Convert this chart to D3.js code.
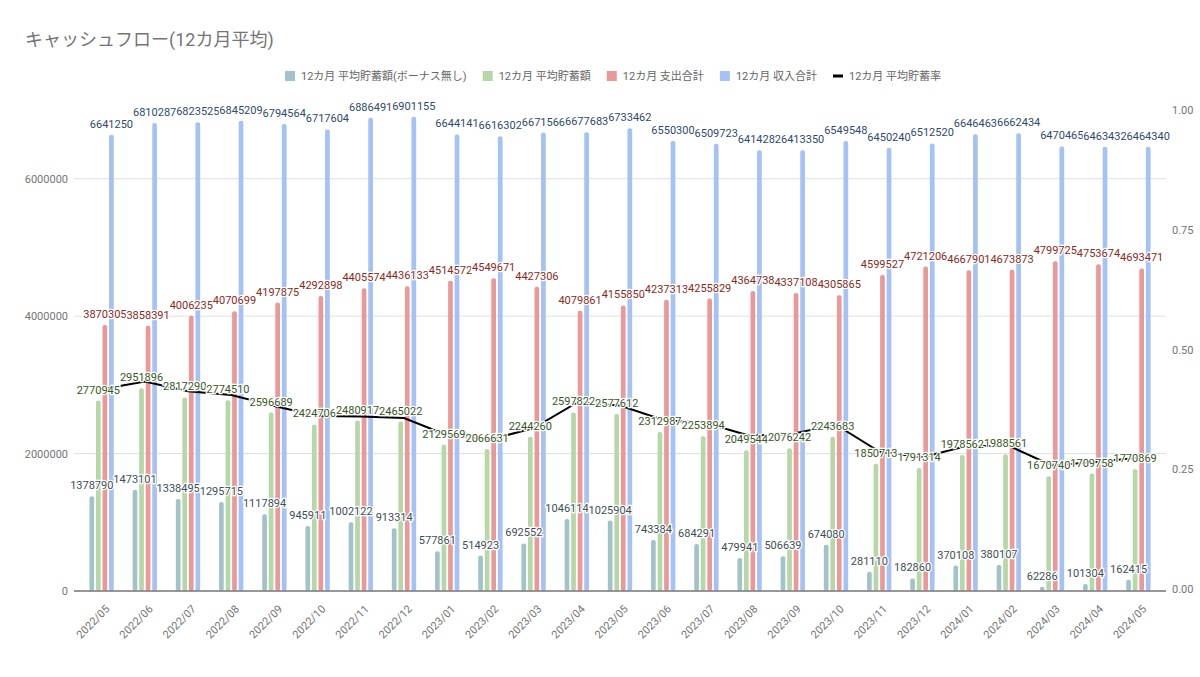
<!DOCTYPE html>
<html>
<head>
<meta charset="utf-8">
<script src="https://cdn.jsdelivr.net/npm/d3@7"></script>
<style>
  body { margin: 0; background: #fff; }
  text { font-family: Roboto, "Noto Sans CJK JP", sans-serif; }
</style>
</head>
<body>
<div id="chart"></div>
<script>
// data
const months = ["2022/05", "2022/06", "2022/07", "2022/08", "2022/09", "2022/10", "2022/11", "2022/12",
  "2023/01", "2023/02", "2023/03", "2023/04", "2023/05", "2023/06", "2023/07", "2023/08", "2023/09",
  "2023/10", "2023/11", "2023/12", "2024/01", "2024/02", "2024/03", "2024/04", "2024/05"];

const savingsNoBonus = [1378790, 1473101, 1338495, 1295715, 1117894, 945911, 1002122, 913314,
  577861, 514923, 692552, 1046114, 1025904, 743384, 684291, 479941, 506639,
  674080, 281110, 182860, 370108, 380107, 62286, 101304, 162415];

const savings = [2770945, 2951896, 2817290, 2774510, 2596689, 2424706, 2480917, 2465022,
  2129569, 2066631, 2244260, 2597822, 2577612, 2312987, 2253894, 2049544, 2076242,
  2243683, 1850713, 1791314, 1978562, 1988561, 1670740, 1709758, 1770869];

const expense = [3870305, 3858391, 4006235, 4070699, 4197875, 4292898, 4405574, 4436133,
  4514572, 4549671, 4427306, 4079861, 4155850, 4237313, 4255829, 4364738, 4337108,
  4305865, 4599527, 4721206, 4667901, 4673873, 4799725, 4753674, 4693471];

const income = [6641250, 6810287, 6823525, 6845209, 6794564, 6717604, 6886491, 6901155,
  6644141, 6616302, 6671566, 6677683, 6733462, 6550300, 6509723, 6414282, 6413350,
  6549548, 6450240, 6512520, 6646463, 6662434, 6470465, 6463432, 6464340];

const savingsRate = [0.417, 0.433, 0.413, 0.405, 0.382, 0.361, 0.360, 0.357,
  0.321, 0.312, 0.336, 0.389, 0.383, 0.353, 0.346, 0.320, 0.324,
  0.343, 0.287, 0.275, 0.298, 0.299, 0.258, 0.265, 0.274];

const leftTicks = [0, 2000000, 4000000, 6000000];
const rightTicks = [0, 0.25, 0.5, 0.75, 1];

const seriesNames = ["12カ月 平均貯蓄額(ボーナス無し)", "12カ月 平均貯蓄額", "12カ月 支出合計", "12カ月 収入合計"];
const lineName = "12カ月 平均貯蓄率";

const barColors = ["#a2c4c9", "#b6d7a8", "#ea9999", "#a4c2f4"];
const labelColors = ["#3d4f55", "#38561f", "#8a2a23", "#2f4a6d"];

const width = 1200, height = 677;
const plot = { left: 80, right: 1160, top: 110, bottom: 591 };

const svg = d3.select("#chart").append("svg")
  .attr("width", width)
  .attr("height", height);

const x = d3.scaleBand().domain(months).range([plot.left, plot.right]).padding(0);
const xInner = d3.scaleBand().domain(d3.range(4)).range([-14, 14]).padding(0.28);
const y = d3.scaleLinear().domain([0, 7000000]).range([plot.bottom, plot.top]);
const yRight = d3.scaleLinear().domain([0, 1]).range([plot.bottom - 2, plot.top]);

// title
svg.append("text")
  .attr("x", 25)
  .attr("y", 46)
  .attr("fill", "#757575")
  .style("font-size", "18px")
  .text("キャッシュフロー(12カ月平均)");

// gridlines
svg.append("g")
  .selectAll("line")
  .data([2000000, 4000000, 6000000])
  .join("line")
  .attr("x1", 74)
  .attr("x2", 1166)
  .attr("y1", d => y(d))
  .attr("y2", d => y(d))
  .attr("stroke", "#e0e0e0")
  .attr("stroke-width", 1);

// left axis
const leftAxis = svg.append("g")
  .attr("transform", `translate(${plot.left - 12},0)`)
  .call(d3.axisLeft(y).tickValues(leftTicks).tickSize(0).tickPadding(0).tickFormat(d3.format("d")));
leftAxis.select(".domain").remove();
leftAxis.selectAll("text").attr("fill", "#757575").style("font-size", "11px");

// right axis
const rightAxis = svg.append("g")
  .attr("transform", `translate(1172,0)`)
  .call(d3.axisRight(yRight).tickValues(rightTicks).tickSize(0).tickPadding(0).tickFormat(d3.format(".2f")));
rightAxis.select(".domain").remove();
rightAxis.selectAll("text").attr("fill", "#757575").style("font-size", "11px");

// bars
const allSeries = [savingsNoBonus, savings, expense, income];
const groups = svg.append("g")
  .selectAll("g")
  .data(allSeries)
  .join("g")
  .attr("fill", (d, i) => barColors[i]);

groups.each(function (values, si) {
  d3.select(this).selectAll("rect")
    .data(values)
    .join("rect")
    .attr("x", (d, i) => x(months[i]) + x.bandwidth() / 2 + xInner(si))
    .attr("y", d => y(d))
    .attr("width", xInner.bandwidth())
    .attr("height", d => y(0) - y(d))
    .attr("rx", 2);
});

// baseline
svg.append("line")
  .attr("x1", 74)
  .attr("x2", 1166)
  .attr("y1", y(0))
  .attr("y2", y(0))
  .attr("stroke", "#757575")
  .attr("stroke-width", 1.5);

// savings rate line
const line = d3.line()
  .x((d, i) => x(months[i]) + x.bandwidth() / 2)
  .y(d => yRight(d));

svg.append("path")
  .datum(savingsRate)
  .attr("d", line)
  .attr("fill", "none")
  .attr("stroke", "#000")
  .attr("stroke-width", 2);

// value labels
allSeries.forEach((values, si) => {
  svg.append("g")
    .selectAll("text")
    .data(values)
    .join("text")
    .attr("x", (d, i) => x(months[i]) + x.bandwidth() / 2 + xInner(si) + xInner.bandwidth() / 2)
    .attr("y", d => y(d) - 7)
    .attr("text-anchor", "middle")
    .attr("fill", labelColors[si])
    .attr("stroke", "#fff")
    .attr("stroke-width", 2.5)
    .attr("paint-order", "stroke")
    .style("font-size", "11px")
    .text(d => d);
});

// x labels
svg.append("g")
  .selectAll("text")
  .data(months)
  .join("text")
  .attr("transform", d => `translate(${x(d) + x.bandwidth() / 2 + 6},${plot.bottom + 16}) rotate(-45)`)
  .attr("text-anchor", "end")
  .attr("dy", "0.35em")
  .attr("fill", "#757575")
  .style("font-size", "11px")
  .text(d => d);

// legend
const legendItems = seriesNames.map((n, i) => ({ name: n, color: barColors[i], type: "rect" }))
  .concat([{ name: lineName, color: "#000", type: "line" }]);

const legend = svg.append("g").attr("transform", "translate(285,76)");
let lx = 0;
legendItems.forEach(item => {
  const g = legend.append("g").attr("transform", `translate(${lx},0)`);
  if (item.type === "rect") {
    g.append("rect").attr("x", 0).attr("y", -5).attr("width", 10).attr("height", 10).attr("fill", item.color);
  } else {
    g.append("rect").attr("x", 0).attr("y", -1.5).attr("width", 10).attr("height", 3).attr("fill", item.color);
  }
  const t = g.append("text")
    .attr("x", 16)
    .attr("y", 4)
    .attr("fill", "#666")
    .style("font-size", "11px")
    .text(item.name);
  lx += 16 + t.node().getComputedTextLength() + 16;
});
</script>
</body>
</html>
